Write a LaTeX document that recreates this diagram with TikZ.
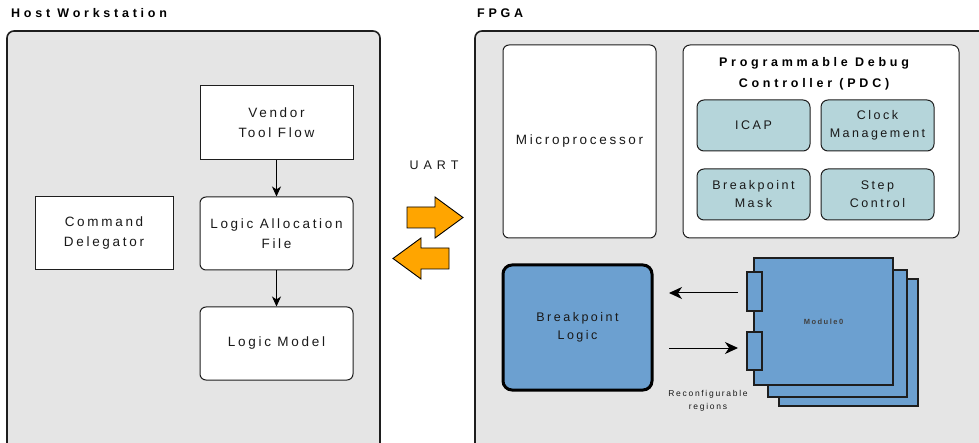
\documentclass[tikz,border=0pt]{standalone}
\usepackage{fontspec}
\setmainfont{Liberation Sans}
\newfontfamily\spaced[LetterSpace=20]{Liberation Sans}
\newfontfamily\widespaced[LetterSpace=30]{Liberation Sans}
\newfontfamily\uartfont[LetterSpace=40]{Liberation Sans}
\usetikzlibrary{arrows.meta}
\definecolor{panelgray}{RGB}{229,229,229}
\definecolor{edgedark}{RGB}{30,30,30}
\definecolor{tealbox}{RGB}{181,213,218}
\definecolor{modblue}{RGB}{108,160,208}
\definecolor{uartorange}{RGB}{255,165,0}
\definecolor{txt}{RGB}{25,25,25}
\tikzset{
  panel/.style={draw=edgedark, line width=1.6pt, fill=panelgray, rounded corners=7pt},
  title/.style={font=\widespaced\bfseries\fontsize{12.5}{15}\selectfont, text=black, anchor=west, inner sep=0pt},
  whitebox/.style={draw=edgedark, line width=1pt, fill=white, align=center, text=txt,
    font=\spaced\fontsize{13.5}{20}\selectfont, inner sep=0pt},
  roundbox/.style={whitebox, rounded corners=6pt},
  pdcitem/.style={draw=edgedark, line width=1pt, fill=tealbox, rounded corners=7pt, align=center,
    text=txt, font=\spaced\fontsize{12.5}{18}\selectfont, inner sep=0pt,
    minimum width=113pt, minimum height=51pt},
  flow/.style={line width=1pt, -{Stealth[length=10pt,width=9pt,inset=3pt]}},
  bigflow/.style={line width=1pt, -{Stealth[length=13pt,width=12pt,inset=4pt]}},
  bigarrow/.style={draw=black, line width=0.9pt, fill=uartorange, line join=miter},
  modrect/.style={draw=edgedark, line width=1.2pt, fill=modblue},
}
\begin{document}
\begin{tikzpicture}[x=1pt,y=-1pt]
\useasboundingbox (0,0) rectangle (979,443);
\clip (0,0) rectangle (979,443);

% ---------------- host side ----------------
\node[title] (hosttitle) at (11,13.5) {Host Workstation};
\draw[panel] (7,31) rectangle (380,460);

\node[whitebox, minimum width=153pt, minimum height=74pt] (vendor) at (276.5,123) {Vendor\\Tool Flow};
\node[roundbox, minimum width=153pt, minimum height=73pt] (laf) at (276.5,233.5) {Logic Allocation\\File};
\node[roundbox, minimum width=153pt, minimum height=73pt] (lmodel) at (276.5,343.5) {Logic Model};
\node[whitebox, minimum width=138pt, minimum height=73pt] (cmd) at (104,233.5) {Command\\Delegator};

\draw[flow] (vendor.south) -- (laf.north);
\draw[flow] (laf.south) -- (lmodel.north);

% ---------------- UART link ----------------
\node[font=\uartfont\fontsize{12.5}{15}\selectfont, text=txt, inner sep=0pt] (uart) at (434,165) {UART};
\draw[bigarrow] (407,207) -- (435,207) -- (435,197) -- (463,217.5) -- (435,238) -- (435,228) -- (407,228) -- cycle;
\draw[bigarrow] (449,248) -- (421,248) -- (421,238) -- (393,258.5) -- (421,279) -- (421,269) -- (449,269) -- cycle;

% ---------------- FPGA side ----------------
\node[title] (fpgatitle) at (477,13.5) {FPGA};
\draw[panel] (475,31) rectangle (1000,460);

\node[roundbox, minimum width=153pt, minimum height=193pt] (micro) at (579.5,141.5) {Microprocessor};
\node[whitebox, rounded corners=7pt, minimum width=276pt, minimum height=193pt] (pdc) at (821,141.5) {};
\node[font=\widespaced\bfseries\fontsize{12.5}{21}\selectfont, text=black, align=center, inner sep=0pt]
  (pdctitle) at (814,73.5) {Programmable Debug\\Controller (PDC)};

\node[pdcitem] (icap) at (753.5,125.5) {ICAP};
\node[pdcitem] (clock) at (877.5,125.5) {Clock\\Management};
\node[pdcitem] (bpmask) at (753.5,194.5) {Breakpoint\\Mask};
\node[pdcitem] (step) at (877.5,194.5) {Step\\Control};

% breakpoint logic block
\node[draw=black, line width=3pt, fill=modblue, rounded corners=9pt, minimum width=149pt, minimum height=125pt,
  align=center, text=txt, font=\spaced\fontsize{12.5}{18}\selectfont, inner sep=0pt]
  (bplogic) at (577.5,327.5) {Breakpoint\\Logic};

% stacked reconfigurable modules
\draw[modrect] (779,279) rectangle (918,406);
\draw[modrect] (768,270) rectangle (907,397);
\node[modrect, minimum width=139pt, minimum height=127pt, inner sep=0pt,
  font=\spaced\bfseries\fontsize{7.5}{9}\selectfont, text=black!75] (module) at (823.5,321.5) {Module0};
\node[modrect, minimum width=15pt, minimum height=39pt, inner sep=0pt] (portout) at (754.5,291.5) {};
\node[modrect, minimum width=15pt, minimum height=38pt, inner sep=0pt] (portin) at (754.5,351) {};

\coordinate (outstart) at (738,293);
\coordinate (outend) at (669,293);
\coordinate (instart) at (669,348);
\coordinate (inend) at (738,348);
\draw[bigflow] (outstart) -- (outend);
\draw[bigflow] (instart) -- (inend);

\node[font=\spaced\fontsize{8.5}{13}\selectfont, text=txt, align=center, inner sep=0pt]
  (regions) at (708,400.5) {Reconfigurable\\regions};
\end{tikzpicture}
\end{document}
